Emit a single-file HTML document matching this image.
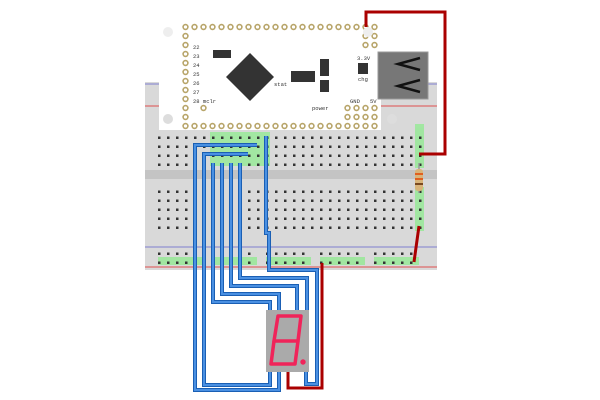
<!DOCTYPE html>
<html><head><style>body{margin:0;background:#fff}svg{display:block}</style></head><body>
<svg width="600" height="400" viewBox="0 0 600 400" xmlns="http://www.w3.org/2000/svg" font-family="Liberation Mono, monospace">
<defs>
<pattern id="h" x="157.5" y="0" width="9" height="9" patternUnits="userSpaceOnUse"><rect x="0.5" y="0.5" width="2.5" height="2.5" fill="#333"/></pattern>
<pattern id="p" x="181" y="22.5" width="9" height="9" patternUnits="userSpaceOnUse"><circle cx="4.5" cy="4.5" r="3.2" fill="#b8a56a"/><circle cx="4.5" cy="4.5" r="1.6" fill="#fff"/></pattern>
</defs>
<!-- breadboard -->
<rect x="145" y="82" width="292" height="188" fill="#d9d9d9"/>
<line x1="145" y1="84" x2="437" y2="84" stroke="#8080d0"/>
<line x1="145" y1="106" x2="437" y2="106" stroke="#e05050"/>
<rect x="145" y="170" width="292" height="9" fill="#c4c4c4"/>
<line x1="145" y1="247" x2="437" y2="247" stroke="#8080d0"/>
<line x1="145" y1="267" x2="437" y2="267" stroke="#e05050"/>
<g fill="#9be89b" opacity="0.9">
<rect x="210" y="132" width="60" height="34"/>
<rect x="415" y="124" width="9" height="44"/>
<rect x="415" y="187" width="9" height="44"/>
<rect x="158" y="257" width="45" height="8"/><rect x="212" y="257" width="45" height="8"/><rect x="266" y="257" width="45" height="8"/><rect x="320" y="257" width="45" height="8"/><rect x="374" y="257" width="45" height="8"/>
</g>
<rect x="156" y="133" width="270" height="34" fill="url(#h)" transform="translate(0,1)"/>
<rect x="156" y="187" width="270" height="43" fill="url(#h)" transform="translate(0,1)"/>
<rect x="156" y="249" width="45" height="16" fill="url(#h)"/>
<rect x="210" y="249" width="45" height="16" fill="url(#h)"/>
<rect x="264" y="249" width="45" height="16" fill="url(#h)"/>
<rect x="318" y="249" width="45" height="16" fill="url(#h)"/>
<rect x="372" y="249" width="45" height="16" fill="url(#h)"/>
<!-- board -->
<rect x="159" y="23" width="222" height="107" fill="#fff"/>
<rect x="181" y="22.5" width="198" height="9" fill="url(#p)"/>
<rect x="181" y="121.5" width="198" height="9" fill="url(#p)"/>
<rect x="181" y="31.5" width="9" height="90" fill="url(#p)"/>
<rect x="361" y="31.5" width="18" height="18" fill="url(#p)"/>
<rect x="343" y="103.5" width="36" height="18" fill="url(#p)"/>
<rect x="199" y="103.5" width="9" height="9" fill="url(#p)"/>
<g font-size="5.5" fill="#333">
<text x="193" y="49">22</text><text x="193" y="58">23</text><text x="193" y="67">24</text><text x="193" y="76">25</text><text x="193" y="85">26</text><text x="193" y="94">27</text><text x="193" y="103">28 mclr</text>
<text x="274" y="86">stat</text><text x="357" y="60">3.3V</text><text x="358" y="81">chg</text>
<text x="312" y="110">power</text><text x="350" y="103">GND</text><text x="370" y="103">5V</text>
</g>
<rect x="213" y="50" width="18" height="8" fill="#333"/>
<polygon points="250,53 274,77 250,101 226,77" fill="#333"/>
<rect x="291" y="71" width="24" height="11" fill="#333"/>
<rect x="320" y="59" width="9" height="17" fill="#333"/>
<rect x="320" y="80" width="9" height="12" fill="#333"/>
<rect x="358" y="63" width="10" height="11" fill="#333"/>
<circle cx="168" cy="32" r="5" fill="#eee"/><circle cx="368" cy="32" r="5" fill="#eee"/>
<circle cx="168" cy="119" r="5" fill="#ddd"/><circle cx="392" cy="119" r="5" fill="#ddd"/>
<!-- usb -->
<rect x="378" y="52" width="50" height="47" fill="#777" stroke="#999"/>
<path d="M420 58 L398 64 L420 70 M420 80 L398 86 L420 92" stroke="#111" stroke-width="2.5" fill="none"/>
<!-- resistor -->
<line x1="419" y1="163" x2="419" y2="193" stroke="#999" stroke-width="1.5"/>
<rect x="415" y="169" width="8" height="22" rx="3" fill="#d9b47a"/>
<rect x="415" y="173" width="8" height="2" fill="#e06020"/><rect x="415" y="178" width="8" height="2" fill="#e06020"/><rect x="415" y="183" width="8" height="2" fill="#7a4a20"/>
<!-- red wires -->
<g fill="none" stroke="#a00" stroke-width="3">
<path d="M366 27 V12 H445 V154 H419"/>
<path d="M419 226 L414 262"/>
<path d="M322 263 V388 H288 V372"/>
</g>
<!-- blue wires -->
<g fill="none" stroke="#1a5fb4" stroke-width="4">
<path d="M266 136 V233 H269 V270 H317 V384 H306 V372"/>
<path d="M257 145 H195 V390 H279 V372"/>
<path d="M248 154 H204 V385 H270 V372"/>
<path d="M240 163 V278 H307 V311"/>
<path d="M231 163 V286 H297 V311"/>
<path d="M222 163 V294 H279 V318"/>
<path d="M213 163 V302 H270 V318"/>
</g>
<g fill="none" stroke="#4a90e2" stroke-width="2">
<path d="M266 136 V233 H269 V270 H317 V384 H306 V372"/>
<path d="M257 145 H195 V390 H279 V372"/>
<path d="M248 154 H204 V385 H270 V372"/>
<path d="M240 163 V278 H307 V311"/>
<path d="M231 163 V286 H297 V311"/>
<path d="M222 163 V294 H279 V318"/>
<path d="M213 163 V302 H270 V318"/>
</g>
<!-- 7 seg -->
<rect x="266" y="310" width="43" height="62" fill="#aaa"/>
<g fill="none" stroke="#f0245a" stroke-width="3.5" stroke-linejoin="round">
<path d="M278 316 H301 L298 341 H274 Z"/>
<path d="M274 341 L271 364 H295 L298 341"/>
</g>
<circle cx="303" cy="362" r="2.7" fill="#f0245a"/>
</svg>
</body></html>
